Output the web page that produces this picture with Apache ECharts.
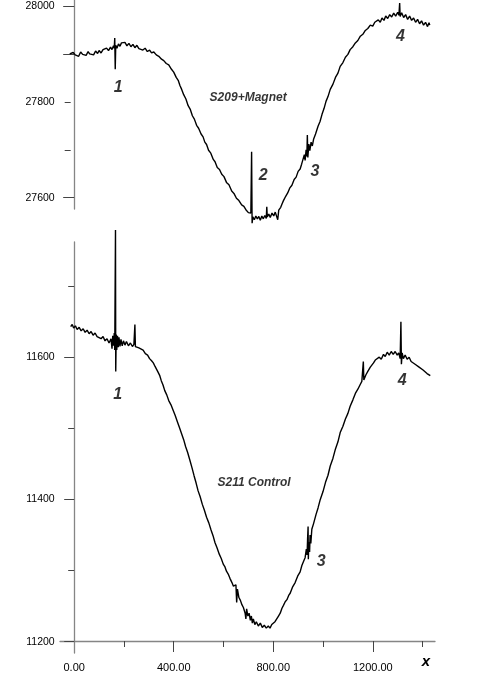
<!DOCTYPE html>
<html>
<head>
<meta charset="utf-8">
<title>S209+Magnet / S211 Control</title>
<script src="https://cdn.jsdelivr.net/npm/echarts@6/dist/echarts.min.js"></script>
<style>
  html, body { margin: 0; padding: 0; background: #fff; }
  #chart { width: 491px; height: 692px; }
</style>
</head>
<body>
<div id="chart"></div>
<script>
// top trace (S209+Magnet), [x, value]
const magnetSeries = [
  [-18, 27900], [-10, 27896], [-4, 27903], [4, 27898], [12, 27902], [18, 27895],
  [26, 27904], [34, 27899], [40, 27903], [48, 27897], [56, 27905], [62, 27900],
  [70, 27903], [78, 27898], [86, 27906], [94, 27901], [100, 27907], [108, 27902],
  [116, 27909], [124, 27905], [130, 27912], [138, 27907], [146, 27914], [152, 27909],
  [158, 27917], [161, 27912], [163, 27933], [165, 27868], [167, 27918], [172, 27912],
  [178, 27921], [184, 27916], [190, 27923], [197, 27919], [204, 27924], [212, 27917],
  [220, 27922], [228, 27915], [236, 27920], [244, 27913], [252, 27918], [260, 27911],
  [268, 27915], [276, 27908], [285, 27912], [294, 27905], [303, 27908], [311, 27902],
  [320, 27904], [330, 27898], [340, 27895], [351, 27889], [360, 27886], [370, 27880],
  [380, 27877], [391, 27868], [400, 27862], [410, 27851], [418, 27845], [425, 27834],
  [432, 27826], [440, 27815], [449, 27806], [458, 27792], [466, 27785], [475, 27771],
  [483, 27764], [492, 27751], [500, 27745], [510, 27733], [518, 27727], [525, 27716],
  [532, 27711], [540, 27699], [549, 27693], [559, 27680], [566, 27675], [575, 27663],
  [584, 27659], [593, 27649], [602, 27644], [612, 27632], [622, 27627], [633, 27614],
  [642, 27609], [652, 27599], [662, 27594], [673, 27585], [682, 27582], [690, 27575],
  [695, 27578], [700, 27569], [705, 27565], [710, 27568], [713, 27696], [715, 27547],
  [718, 27560], [724, 27554], [730, 27562], [736, 27556], [742, 27561], [748, 27553],
  [754, 27562], [760, 27556], [766, 27563], [772, 27557], [774, 27581], [776, 27560],
  [782, 27566], [788, 27559], [795, 27568], [802, 27562], [808, 27570], [814, 27566],
  [818, 27554], [822, 27574], [830, 27580], [836, 27588], [841, 27594], [850, 27603],
  [858, 27610], [866, 27620], [875, 27626], [884, 27638], [892, 27643], [900, 27655],
  [908, 27660], [914, 27670], [920, 27674], [925, 27690], [928, 27678], [932, 27700],
  [935, 27686], [937, 27731], [939, 27684], [943, 27712], [947, 27698], [952, 27716],
  [957, 27708], [962, 27722], [970, 27733], [980, 27749], [988, 27759], [996, 27774],
  [1004, 27786], [1012, 27801], [1020, 27811], [1029, 27826], [1040, 27837], [1050, 27851],
  [1060, 27860], [1069, 27874], [1080, 27882], [1090, 27893], [1100, 27899], [1109, 27909],
  [1120, 27915], [1130, 27923], [1140, 27928], [1150, 27937], [1160, 27941], [1170, 27949],
  [1180, 27953], [1190, 27960], [1200, 27958], [1208, 27966], [1215, 27962], [1222, 27971],
  [1230, 27966], [1237, 27975], [1245, 27970], [1252, 27979], [1260, 27974], [1268, 27982],
  [1276, 27977], [1284, 27985], [1292, 27979], [1300, 27987], [1305, 27981], [1308, 28006],
  [1310, 27978], [1316, 27986], [1324, 27976], [1332, 27982], [1340, 27972], [1348, 27979],
  [1356, 27970], [1364, 27975], [1372, 27966], [1380, 27972], [1388, 27963], [1396, 27969],
  [1404, 27960], [1412, 27966], [1420, 27957], [1426, 27965], [1429, 27960]
];

// bottom trace (S211 Control)
const controlSeries = [
  [-14, 11643], [-8, 11646], [-2, 11641], [5, 11644], [12, 11639], [20, 11642],
  [28, 11637], [36, 11640], [44, 11635], [52, 11638], [60, 11633], [68, 11636],
  [76, 11631], [84, 11634], [92, 11629], [100, 11631], [108, 11626], [116, 11629],
  [124, 11623], [132, 11626], [140, 11620], [148, 11626], [152, 11612], [155, 11630],
  [158, 11616], [161, 11634], [163, 11610], [166, 11779], [167, 11580], [169, 11632],
  [171, 11610], [174, 11630], [177, 11614], [180, 11628], [184, 11615], [188, 11625],
  [193, 11616], [198, 11623], [204, 11617], [210, 11622], [218, 11616], [226, 11620],
  [234, 11615], [240, 11618], [244, 11646], [246, 11615], [252, 11616], [260, 11613],
  [268, 11612], [277, 11610], [286, 11605], [295, 11603], [303, 11598], [311, 11595],
  [318, 11592], [325, 11587], [331, 11585], [337, 11579], [344, 11574], [350, 11567],
  [357, 11561], [364, 11553], [372, 11547], [380, 11539], [389, 11533], [398, 11525],
  [406, 11518], [415, 11509], [423, 11501], [432, 11492], [440, 11484], [448, 11474],
  [456, 11466], [465, 11455], [473, 11445], [482, 11433], [490, 11423], [498, 11412],
  [506, 11404], [515, 11393], [523, 11385], [532, 11375], [541, 11367], [550, 11357],
  [558, 11349], [566, 11339], [574, 11332], [583, 11323], [591, 11317], [599, 11309],
  [606, 11305], [612, 11299], [619, 11295], [626, 11289], [634, 11283], [640, 11278],
  [646, 11276], [650, 11280], [653, 11255], [656, 11274], [662, 11262], [668, 11258],
  [674, 11252], [680, 11248], [687, 11240], [690, 11232], [693, 11246], [698, 11236],
  [703, 11240], [708, 11230], [712, 11236], [716, 11226], [720, 11232], [726, 11224],
  [732, 11228], [740, 11222], [748, 11226], [756, 11220], [764, 11223], [772, 11219],
  [780, 11222], [787, 11219], [794, 11224], [800, 11224], [807, 11228], [814, 11230],
  [821, 11236], [828, 11240], [835, 11247], [841, 11251], [848, 11256], [855, 11259],
  [862, 11265], [868, 11268], [878, 11277], [888, 11283], [898, 11292], [908, 11298],
  [915, 11307], [922, 11313], [928, 11318], [933, 11330], [936, 11322], [938, 11345],
  [940, 11362], [941, 11316], [943, 11340], [946, 11326], [948, 11350], [951, 11338],
  [955, 11358], [962, 11366], [972, 11379], [980, 11388], [989, 11400], [1000, 11411],
  [1010, 11424], [1020, 11434], [1029, 11447], [1040, 11458], [1050, 11471], [1060, 11481],
  [1069, 11494], [1080, 11503], [1090, 11513], [1100, 11521], [1109, 11531], [1120, 11540],
  [1130, 11549], [1140, 11555], [1150, 11562], [1156, 11566], [1160, 11564], [1162, 11594],
  [1164, 11568], [1172, 11575], [1180, 11580], [1190, 11586], [1203, 11592], [1210, 11596],
  [1218, 11594], [1226, 11600], [1234, 11597], [1243, 11604], [1250, 11601], [1258, 11607],
  [1266, 11603], [1274, 11608], [1282, 11604], [1290, 11608], [1298, 11603], [1304, 11606],
  [1310, 11598], [1313, 11650], [1315, 11590], [1318, 11606], [1323, 11598], [1330, 11603],
  [1338, 11597], [1346, 11600], [1354, 11594], [1362, 11596], [1370, 11590], [1378, 11592],
  [1386, 11586], [1394, 11588], [1402, 11582], [1410, 11583], [1418, 11577], [1425, 11578],
  [1431, 11574]
];

// tick values
const xLabelTicks = [0, 400, 800, 1200];
const xMajorTicks = [400, 800, 1200];
const xMinorTicks = [200, 600, 1000, 1400];
const magnetLabels = [27600, 27800, 28000];
const magnetLong = [27600, 27900, 28000];
const magnetShort = [27700, 27800];
const controlLabels = [11200, 11400, 11600];
const controlShort = [11300, 11500, 11700];

// event markers and panel titles, [x, value, text]
const magnetMarks = [[177, 27830, '1'], [760, 27646, '2'], [968, 27654, '3'], [1311, 27936, '4']];
const magnetTitle = [[699, 27809, 'S209+Magnet']];
const controlMarks = [[175, 11548, '1'], [993, 11312, '3'], [1318, 11567, '4']];
const controlTitle = [[723, 11424, 'S211 Control']];

const X_MIN = -57, X_MAX = 1450;
const axisGray = '#858585';
const tickGray = '#444';
const font = '"Liberation Sans", Arial, sans-serif';

const chart = echarts.init(document.getElementById('chart'));

// two y axes per panel: one carries the line, labels and long ticks, the other the short ticks
function yAxisPair(gridIndex, min, max, labels, longTicks, shortTicks, longLen) {
  const common = {
    type: 'value', gridIndex, min, max, position: 'left', offset: -10.7,
    splitLine: { show: false }
  };
  return [
    Object.assign({}, common, {
      axisLine: { show: true, lineStyle: { color: axisGray, width: 1.3 } },
      axisTick: { show: true, customValues: longTicks, length: longLen, lineStyle: { color: tickGray } },
      axisLabel: {
        customValues: labels, margin: 16, color: '#000', fontSize: 10.5, fontFamily: font,
        formatter: v => String(v)
      }
    }),
    Object.assign({}, common, {
      axisLine: { show: false },
      axisTick: { show: true, customValues: shortTicks, length: 6, lineStyle: { color: tickGray } },
      axisLabel: { show: false }
    })
  ];
}

function markSeries(x, y, data, size) {
  return {
    type: 'scatter', xAxisIndex: x, yAxisIndex: y, data,
    symbolSize: 1, itemStyle: { color: 'transparent' }, silent: true,
    label: {
      show: true, position: 'inside', formatter: p => p.data[2],
      color: '#000', fontSize: size, fontWeight: 'bold', fontStyle: 'italic', fontFamily: font
    }
  };
}

chart.setOption({
  animation: false,
  backgroundColor: '#fff',
  grid: [
    { left: 60, top: 0, width: 375, height: 209 },
    { left: 60, top: 242, width: 375, height: 411 }
  ],
  xAxis: [
    { type: 'value', gridIndex: 0, min: X_MIN, max: X_MAX, show: false },
    {
      type: 'value', gridIndex: 1, min: X_MIN, max: X_MAX, position: 'bottom', offset: -12,
      splitLine: { show: false },
      axisLine: { show: true, lineStyle: { color: axisGray, width: 1.3 } },
      axisTick: { show: true, customValues: xMajorTicks, length: 11, lineStyle: { color: tickGray } },
      axisLabel: {
        customValues: xLabelTicks, margin: 21, color: '#000', fontSize: 11, fontFamily: font,
        formatter: v => v.toFixed(2)
      },
      name: 'x', nameLocation: 'end', nameGap: -9,
      nameTextStyle: {
        fontSize: 15, fontWeight: 'bold', fontStyle: 'italic', fontFamily: font, color: '#000',
        align: 'center', verticalAlign: 'top', padding: [13, 0, 0, 0]
      }
    },
    {
      type: 'value', gridIndex: 1, min: X_MIN, max: X_MAX, position: 'bottom', offset: -12,
      splitLine: { show: false },
      axisLine: { show: false },
      axisTick: { show: true, customValues: xMinorTicks, length: 6, lineStyle: { color: tickGray } },
      axisLabel: { show: false }
    }
  ],
  yAxis: [
    ...yAxisPair(0, 27576.5, 28012.5, magnetLabels, magnetLong, magnetShort, 11),
    ...yAxisPair(1, 11184, 11762, controlLabels, controlLabels, controlShort, 10)
  ],
  series: [
    {
      type: 'line', xAxisIndex: 0, yAxisIndex: 0, data: magnetSeries,
      showSymbol: false, clip: false, silent: true,
      lineStyle: { color: '#000', width: 1.4 }
    },
    {
      type: 'line', xAxisIndex: 1, yAxisIndex: 2, data: controlSeries,
      showSymbol: false, clip: false, silent: true,
      lineStyle: { color: '#000', width: 1.4 }
    },
    markSeries(0, 0, magnetMarks, 16),
    markSeries(0, 0, magnetTitle, 12),
    markSeries(1, 2, controlMarks, 16),
    markSeries(1, 2, controlTitle, 12)
  ]
});
</script>
</body>
</html>
